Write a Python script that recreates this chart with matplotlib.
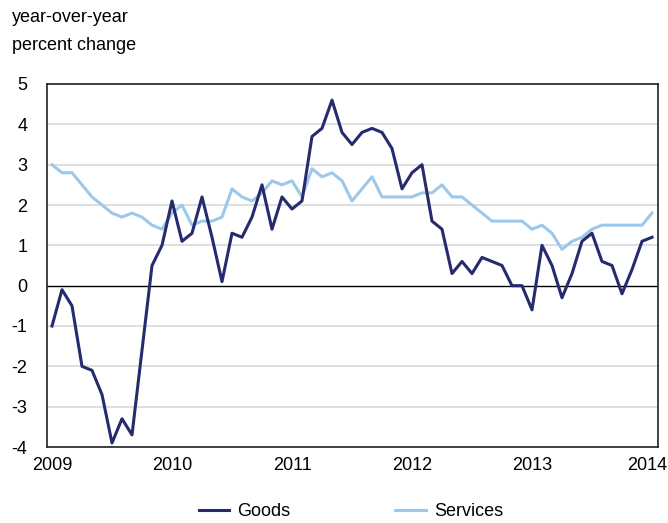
import matplotlib
matplotlib.use("Agg")
import matplotlib.pyplot as plt
import matplotlib.transforms as mtransforms
import numpy as np

plt.rcParams['font.family'] = ['Liberation Sans', 'DejaVu Sans']

# Monthly, Jan 2009 .. Jan 2014
goods = [-1.0, -0.1, -0.5, -2.0, -2.1, -2.7, -3.9, -3.3, -3.7, -1.6,
         0.5, 1.0, 2.1, 1.1, 1.3, 2.2, 1.2, 0.1, 1.3, 1.2,
         1.7, 2.5, 1.4, 2.2, 1.9, 2.1, 3.7, 3.9, 4.6, 3.8,
         3.5, 3.8, 3.9, 3.8, 3.4, 2.4, 2.8, 3.0, 1.6, 1.4,
         0.3, 0.6, 0.3, 0.7, 0.6, 0.5, 0.0, 0.0, -0.6, 1.0,
         0.5, -0.3, 0.3, 1.1, 1.3, 0.6, 0.5, -0.2, 0.4, 1.1,
         1.2]
services = [3.0, 2.8, 2.8, 2.5, 2.2, 2.0, 1.8, 1.7, 1.8, 1.7,
            1.5, 1.4, 1.8, 2.0, 1.5, 1.6, 1.6, 1.7, 2.4, 2.2,
            2.1, 2.3, 2.6, 2.5, 2.6, 2.2, 2.9, 2.7, 2.8, 2.6,
            2.1, 2.4, 2.7, 2.2, 2.2, 2.2, 2.2, 2.3, 2.3, 2.5,
            2.2, 2.2, 2.0, 1.8, 1.6, 1.6, 1.6, 1.6, 1.4, 1.5,
            1.3, 0.9, 1.1, 1.2, 1.4, 1.5, 1.5, 1.5, 1.5, 1.5,
            1.8]
year_labels = ['2009', '2010', '2011', '2012', '2013', '2014']
y_ticks = [5, 4, 3, 2, 1, 0, -1, -2, -3, -4]

W, H = 668, 523
fig = plt.figure(figsize=(W/100, H/100), dpi=100)
ax = fig.add_axes([47/W, 1-447/H, (658-47)/W, (447-84)/H])

x = np.arange(len(goods))
ax.set_xlim(-0.5, 60.6)
ax.set_ylim(-4, 5)

for v in y_ticks:
    if v != 0:
        ax.axhline(v, color='#d9d9d9', lw=1.2, zorder=1)
ax.axhline(0, color='black', lw=1.0, zorder=2)

l1, = ax.plot(x, goods, color='#262a6e', lw=2.2, zorder=4, label='Goods')
l2, = ax.plot(x, services, color='#9dc8ea', lw=2.2, zorder=3, label='Services')

ax.set_yticks(y_ticks)
ax.set_yticklabels([str(v) for v in y_ticks])
ax.set_xticks(np.arange(0, 61, 12))
ax.set_xticklabels(year_labels)
ax.tick_params(length=0, labelsize=13, pad=7)
ax.tick_params(axis='y', pad=14)
last = ax.get_xticklabels()[-1]
last.set_transform(last.get_transform() +
                   mtransforms.ScaledTranslation(-5/100, 0, fig.dpi_scale_trans))
for s in ax.spines.values():
    s.set_color('#222222')
    s.set_linewidth(1.2)

fig.text(12/W, 1-18/H, 'year-over-year', fontsize=13, va='center', ha='left')
fig.text(12/W, 1-45/H, 'percent change', fontsize=13, va='center', ha='left')

fig.legend(handles=[l1, l2], loc='center', bbox_to_anchor=(351/W, 1-512/H),
           ncol=2, frameon=False, fontsize=13, handlelength=1.7,
           columnspacing=5.8, handletextpad=0.45)

fig.savefig('out.png', dpi=100)
